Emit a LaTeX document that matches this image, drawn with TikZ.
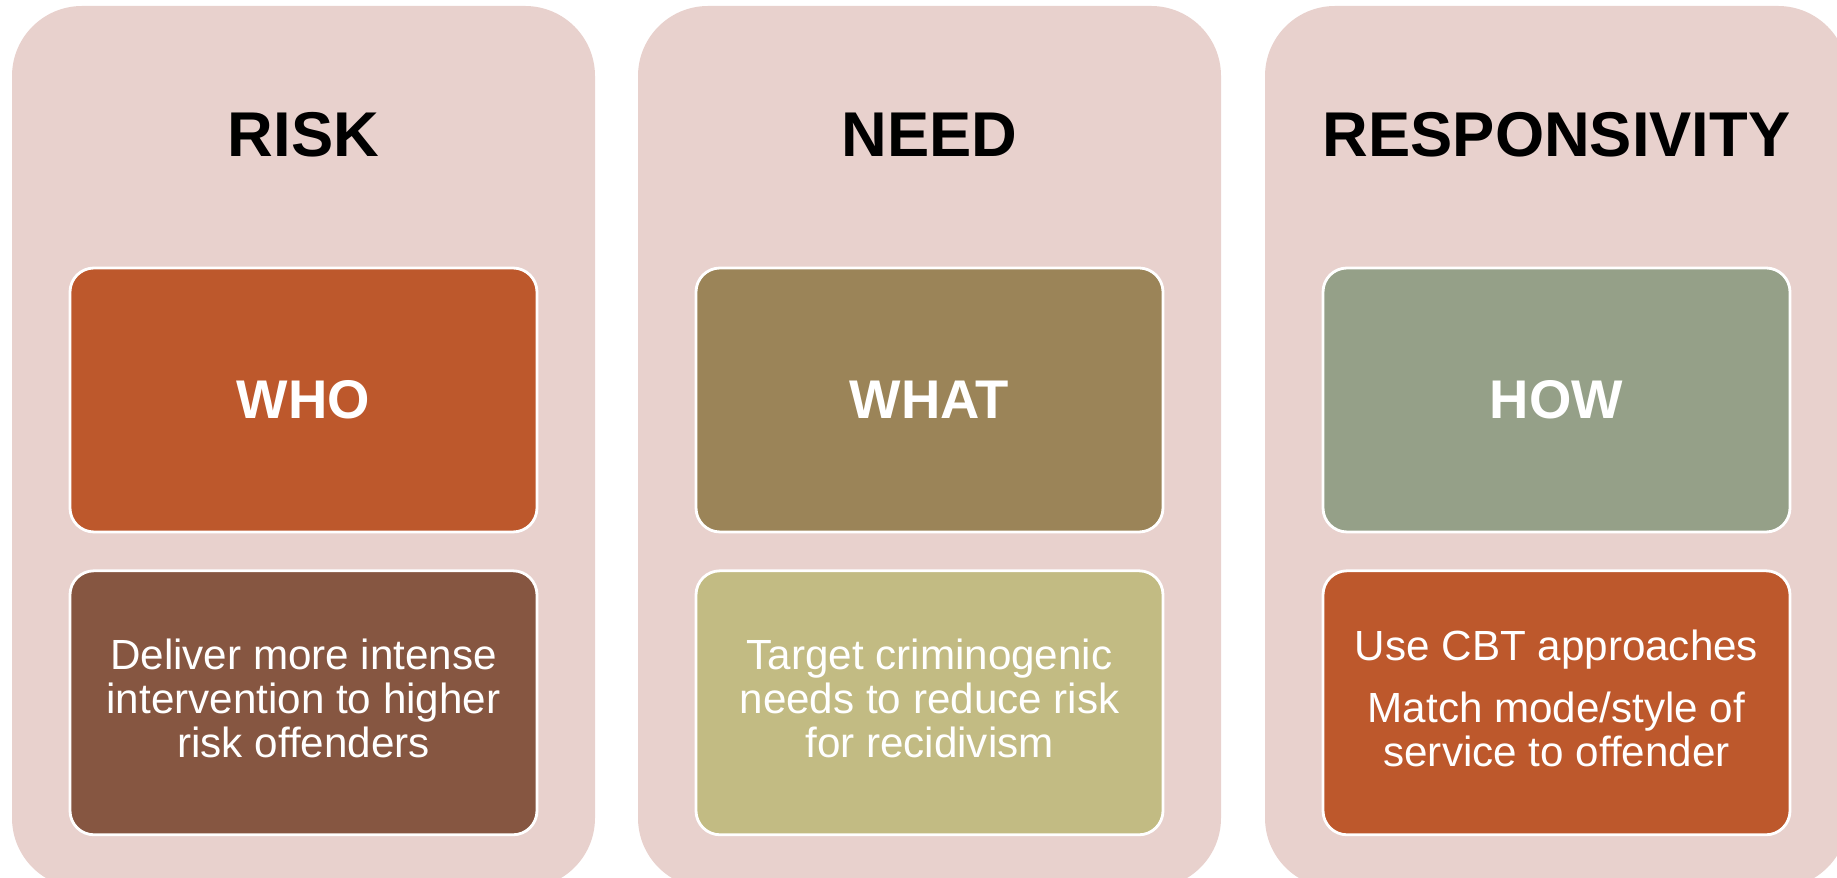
\documentclass[tikz,border=0pt]{standalone}
\usepackage{fontspec}
\setmainfont{Liberation Sans}
\usetikzlibrary{positioning}
\definecolor{panelpink}{HTML}{E8D1CD}
\definecolor{orangebox}{HTML}{BD582C}
\definecolor{brownbox}{HTML}{865641}
\definecolor{olivebox}{HTML}{9B8458}
\definecolor{sandbox}{HTML}{C2BB83}
\definecolor{sagebox}{HTML}{95A088}

\begin{document}
\begin{tikzpicture}[
    x=0.1mm, y=-0.1mm,
    panel/.style={rectangle, rounded corners=7mm, fill=panelpink,
        minimum width=58.3mm, minimum height=88.2mm, inner sep=0},
    heading/.style={font=\fontsize{18}{20}\selectfont\bfseries},
    keybox/.style={rectangle, rounded corners=2.4mm, draw=white, line width=0.8pt,
        minimum width=46.7mm, minimum height=26.4mm, inner sep=0, text=white,
        font=\fontsize{15.5}{18}\selectfont\bfseries},
    descbox/.style={keybox, align=center, font=\fontsize{12}{12.6}\selectfont,
        text depth=0.9mm},
    ]
    \useasboundingbox (0,0) rectangle (1837,878);
    \clip (0,0) rectangle (1837,878);

    \foreach \i/\cx/\head/\key/\keycol in {risk/303.5/RISK/WHO/orangebox,
        need/929.5/NEED/WHAT/olivebox, resp/1556.5/RESPONSIVITY/HOW/sagebox} {
        \node (panel-\i) [panel] at (\cx,447) {};
        \node (head-\i) [heading] at (\cx,135) {\head};
        \node (key-\i) [keybox, fill=\keycol] at (\cx,400) {\key};
    }

    \node (desc-risk) [descbox, fill=brownbox, below=3.6mm of key-risk]
        {Deliver more intense\\ intervention to higher\\ risk offenders};
    \node (desc-need) [descbox, fill=sandbox, below=3.6mm of key-need]
        {Target criminogenic\\ needs to reduce risk\\ for recidivism};
    \node (desc-resp) [descbox, fill=orangebox, below=3.6mm of key-resp]
        {Use CBT approaches\\[4.8pt] Match mode/style of\\ service to offender};
\end{tikzpicture}
\end{document}
